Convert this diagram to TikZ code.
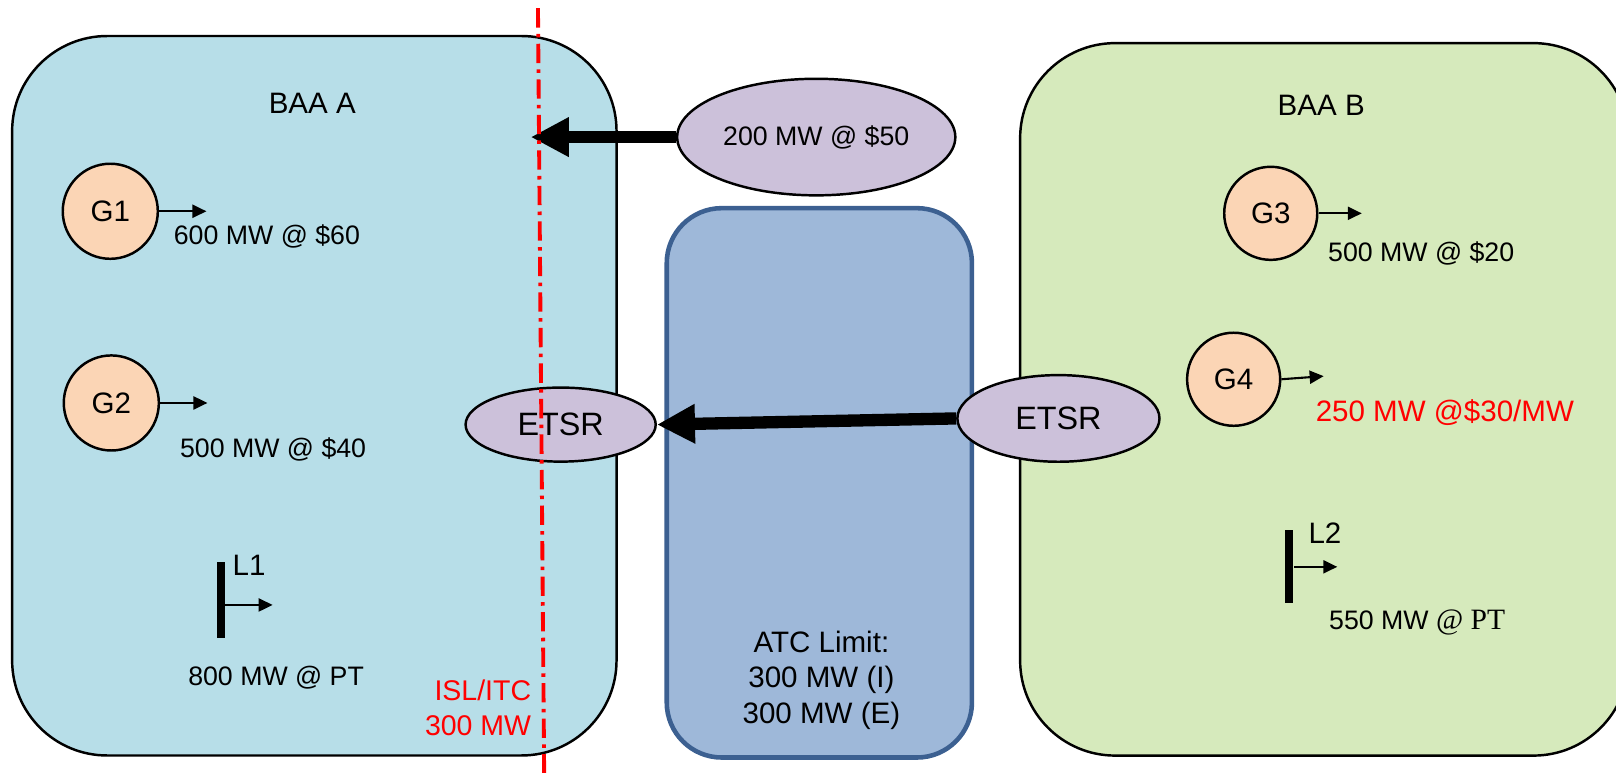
\documentclass[tikz,border=0pt]{standalone}
\usepackage{fontspec}
\setmainfont{Liberation Sans}
\newfontfamily\timesfont{Liberation Serif}
\usetikzlibrary{arrows.meta, positioning, shapes.geometric}
\usepackage{xcolor}
\definecolor{baablue}{RGB}{183,222,232}
\definecolor{baagreen}{RGB}{214,234,188}
\definecolor{atcfill}{RGB}{158,184,217}
\definecolor{atcedge}{RGB}{60,96,145}
\definecolor{bidlilac}{RGB}{204,193,218}
\definecolor{genorange}{RGB}{251,213,181}
\definecolor{islred}{RGB}{255,0,0}
\newcommand{\valsize}{\fontsize{7.6}{9.4}\selectfont}
\newcommand{\lblsize}{\fontsize{8.4}{10}\selectfont}
\tikzset{
    baa/.style={draw=black, line width=0.7pt, rounded corners=0.95cm, inner sep=0pt},
    atcbox/.style={draw=atcedge, line width=1.3pt, fill=atcfill, rounded corners=0.55cm, inner sep=0pt},
    bid/.style={ellipse, draw=black, line width=0.7pt, fill=bidlilac, inner sep=0pt},
    gen/.style={circle, draw=black, line width=0.7pt, fill=genorange, inner sep=0pt,
                minimum size=0.95cm, font=\lblsize},
    loadbar/.style={fill=black, inner sep=0pt, minimum width=0.08cm, minimum height=0.76cm},
    outarrow/.style={-{Triangle[length=1.4mm, width=1.3mm]}, line width=0.6pt},
    flowarrow/.style={-{Triangle[length=3.8mm, width=3.7mm]}, line width=3.5pt},
    val/.style={font=\valsize, inner sep=0pt, anchor=west},
    lbl/.style={font=\lblsize, inner sep=0pt},
    isl/.style={draw=islred, line width=1.1pt, dash pattern=on 5.5pt off 1.8pt on 1pt off 1.8pt},
}

\begin{document}
\begin{tikzpicture}[x=0.010306cm, y=-0.010306cm]
    \useasboundingbox (0,0) rectangle (1568,750);
    % areas
    \node[baa, fill=baablue, minimum width=6.04cm, minimum height=7.19cm] (baaA) at (305,384) {};
    \node[baa, fill=baagreen, minimum width=6.08cm, minimum height=7.12cm] (baaB) at (1285,387.5) {};
    \node[atcbox, minimum width=3.05cm, minimum height=5.49cm] (atc) at (795,468.5) {};
    \node[lbl] (baaAname) at (303,100) {BAA A};
    \node[lbl] (baaBname) at (1282,102) {BAA B};
    \node[lbl, align=center] (atctext) at (797,660) {ATC Limit:\\300 MW (I)\\300 MW (E)};
    % schedules
    \node[bid, minimum width=2.78cm, minimum height=1.165cm, font=\valsize] (bid) at (792,133) {200 MW @ \$50};
    \coordinate (bidtip) at (515,133);
    \draw[flowarrow] (bid.west) -- (bidtip);
    \node[bid, minimum width=1.90cm, minimum height=0.74cm, font=\fontsize{9.2}{11}\selectfont] (etsrA) at (544,412) {ETSR};
    \node[bid, minimum width=2.02cm, minimum height=0.866cm, font=\fontsize{9.2}{11}\selectfont] (etsrB) at (1027,406) {ETSR};
    \draw[flowarrow] (etsrB.west) -- (etsrA.east);
    % BAA A resources
    \node[gen] (g1) at (107,205) {G1};
    \draw[outarrow] (g1.east) -- ++(46,0);
    \node[val] (g1val) at (168,229) {600 MW @ \$60};
    \node[gen] (g2) at (108,391) {G2};
    \draw[outarrow] (g2.east) -- ++(46,0);
    \node[val] (g2val) at (174,436) {500 MW @ \$40};
    \node[loadbar] (l1) at (214,582) {};
    \node[lbl, anchor=west] (l1name) at (225,549) {L1};
    \draw[outarrow] (l1.east |- 0,587) -- ++(46,0);
    \node[val] (l1val) at (182,658) {800 MW @ PT};
    % BAA B resources
    \node[gen, minimum size=0.93cm] (g3) at (1233,207) {G3};
    \draw[outarrow] (g3.east) -- ++(42,0);
    \node[val] (g3val) at (1288,246) {500 MW @ \$20};
    \node[gen, minimum size=0.93cm] (g4) at (1197,368) {G4};
    \draw[outarrow] (g4.east) -- ++(41,-3);
    \node[val, font=\lblsize, text=islred] (g4val) at (1276,400) {250 MW @\$30/MW};
    \node[loadbar, minimum height=0.73cm] (l2) at (1251,550) {};
    \node[lbl, anchor=west] (l2name) at (1269,517) {L2};
    \draw[outarrow] (l2.east) -- ++(42,0);
    \node[val] (l2val) at (1289,604) {550 MW {\timesfont\fontsize{8.4}{10}\selectfont @ PT}};
    % interface limit
    \node[anchor=east, align=right, text=islred, inner sep=0pt, font=\fontsize{8.1}{10}\selectfont] (isltext) at (516,687) {ISL/ITC\\300 MW};
    \coordinate (isltop) at (522,8);
    \coordinate (islbot) at (528,750);
    \draw[isl] (isltop) -- (islbot);
\end{tikzpicture}
\end{document}
